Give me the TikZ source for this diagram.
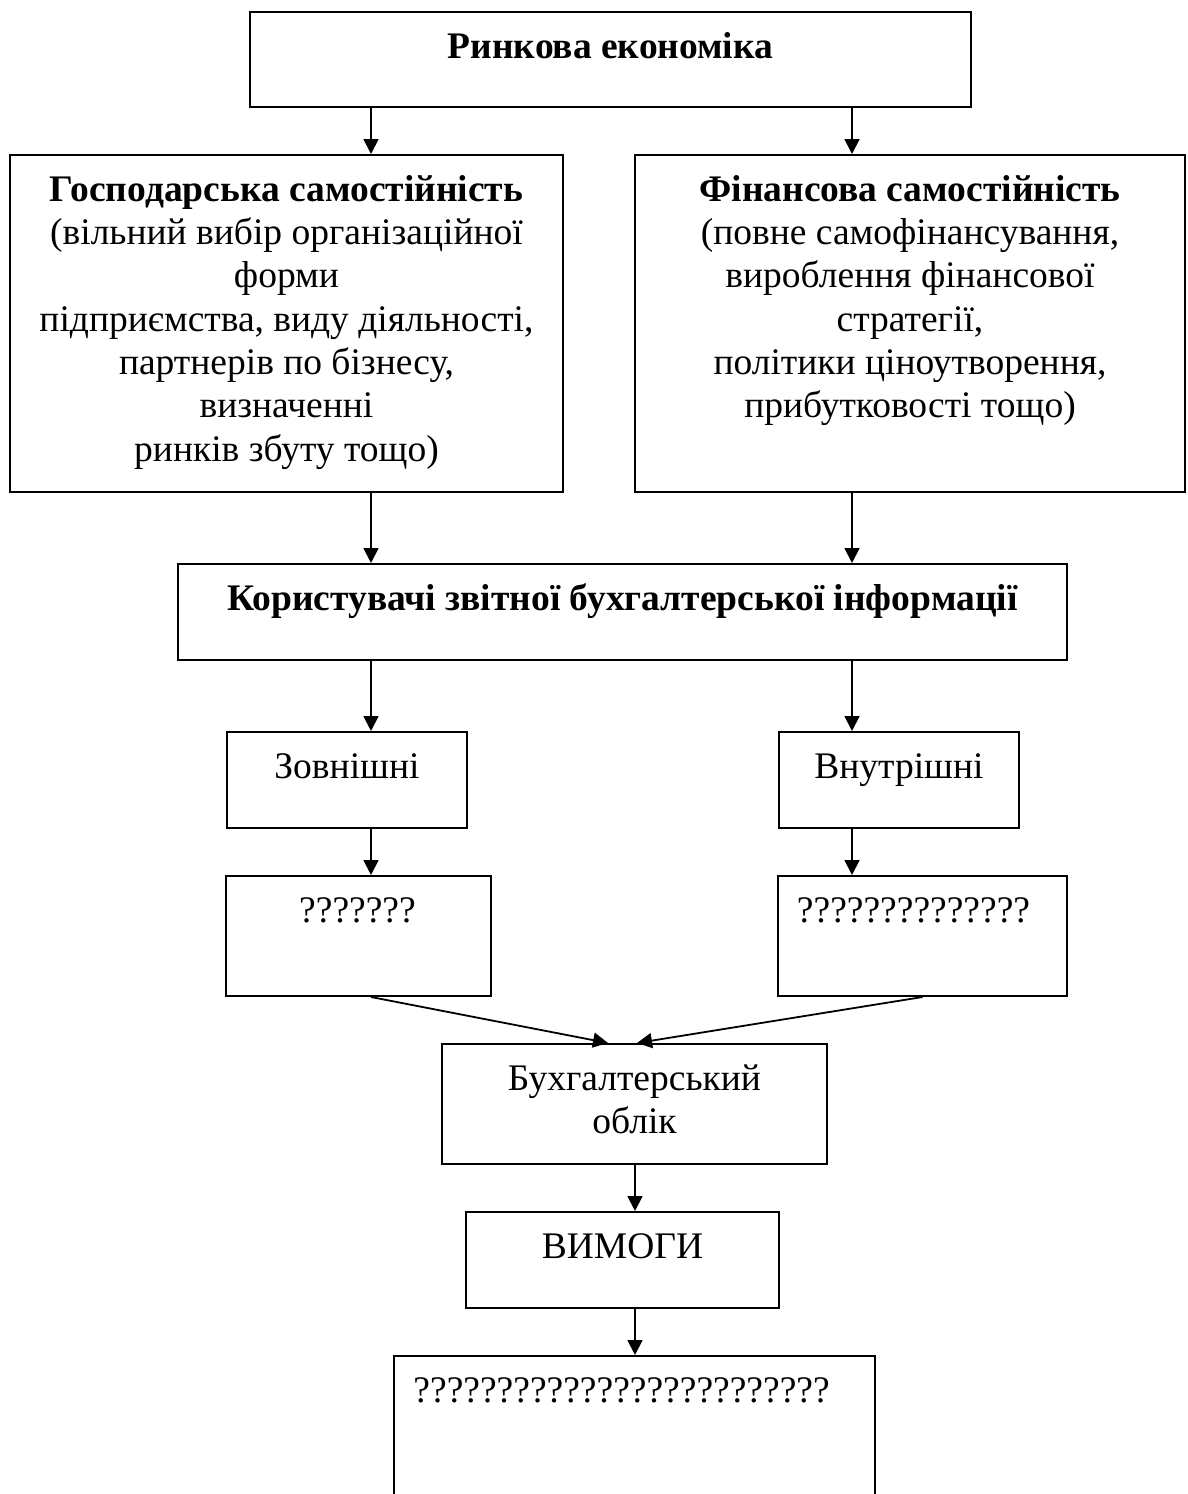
\documentclass[tikz,border=0pt]{standalone}
\usepackage{fontspec}
\setmainfont{Liberation Serif}
\usetikzlibrary{arrows.meta,calc}
\newcommand\diafont{\fontsize{37.5}{43.3}\selectfont}
\begin{document}
\begin{tikzpicture}[x=1pt,y=-1pt,
  box/.style={draw, line width=2pt, rectangle, inner sep=0pt},
  txt/.style={font=\diafont, align=center, inner sep=0pt, anchor=north},
  arr/.style={line width=1.8pt, -{Triangle[length=15pt,width=15pt]}}]
\useasboundingbox (0,0) rectangle (1187,1494);
\clip (0,0) rectangle (1187,1494);
\fill[white] (0,0) rectangle (1187,1494);
% boxes
\node[box, minimum width=721pt, minimum height=95pt]  (A) at (610.5,59.5) {};
\node[box, minimum width=553pt, minimum height=337pt] (B) at (286.5,323.5) {};
\node[box, minimum width=550pt, minimum height=337pt] (C) at (910,323.5) {};
\node[box, minimum width=889pt, minimum height=96pt]  (D) at (622.5,612) {};
\node[box, minimum width=240pt, minimum height=96pt]  (E) at (347,780) {};
\node[box, minimum width=240pt, minimum height=96pt]  (F) at (899,780) {};
\node[box, minimum width=265pt, minimum height=120pt] (G) at (358.5,936) {};
\node[box, minimum width=289pt, minimum height=120pt] (H) at (922.5,936) {};
\node[box, minimum width=385pt, minimum height=120pt] (I) at (634.5,1104) {};
\node[box, minimum width=313pt, minimum height=96pt]  (J) at (622.5,1260) {};
\node[box, minimum width=481pt, minimum height=164pt] (K) at (634.5,1438) {};
% texts
\node[txt] (tA) at (610.5,27.7) {\strut\textbf{Ринкова економіка}};
\node[txt] (tB) at (286.5,170.7) {\strut\textbf{Господарська самостійність}\\(вільний вибір організаційної\\форми\\підприємства, виду діяльності,\\партнерів по бізнесу,\\визначенні\\ринків збуту тощо)};
\node[txt] (tC) at (910,170.7) {\strut\textbf{Фінансова самостійність}\\(повне самофінансування,\\вироблення фінансової\\стратегії,\\політики ціноутворення,\\прибутковості тощо)};
\node[txt] (tD) at (622.5,579.7) {\strut\textbf{Користувачі звітної бухгалтерської інформації}};
\node[txt] (tE) at (347,747.7) {\strut Зовнішні};
\node[txt] (tF) at (899,747.7) {\strut Внутрішні};
\node[txt] (tG) at (357.5,891.7) {\strut ???????};
\node[txt] (tH) at (913.5,891.7) {\strut ??????????????};
\node[txt] (tI) at (634.5,1059.7) {\strut Бухгалтерський\\облік};
\node[txt] (tJ) at (622.5,1227.7) {\strut ВИМОГИ};
\node[txt] (tK) at (621.5,1371.7) {\strut ?????????????????????????};
% connector columns
\coordinate (cl) at (371,0);
\coordinate (cr) at (852,0);
\coordinate (cm) at (635,0);
\draw[arr] (A.south -| cl) -- (B.north -| cl);
\draw[arr] (A.south -| cr) -- (C.north -| cr);
\draw[arr] (B.south -| cl) -- (D.north -| cl);
\draw[arr] (C.south -| cr) -- (D.north -| cr);
\draw[arr] (D.south -| cl) -- (E.north -| cl);
\draw[arr] (D.south -| cr) -- (F.north -| cr);
\draw[arr] (E.south -| cl) -- (G.north -| cl);
\draw[arr] (F.south -| cr) -- (H.north -| cr);
\draw[arr] (G.south -| cl) -- ($(I.north)+(-26.5,0)$);
\draw[arr] (H.south) -- ($(I.north)+(2.5,0)$);
\draw[arr] (I.south -| cm) -- (J.north -| cm);
\draw[arr] (J.south -| cm) -- (K.north -| cm);
\end{tikzpicture}
\end{document}
